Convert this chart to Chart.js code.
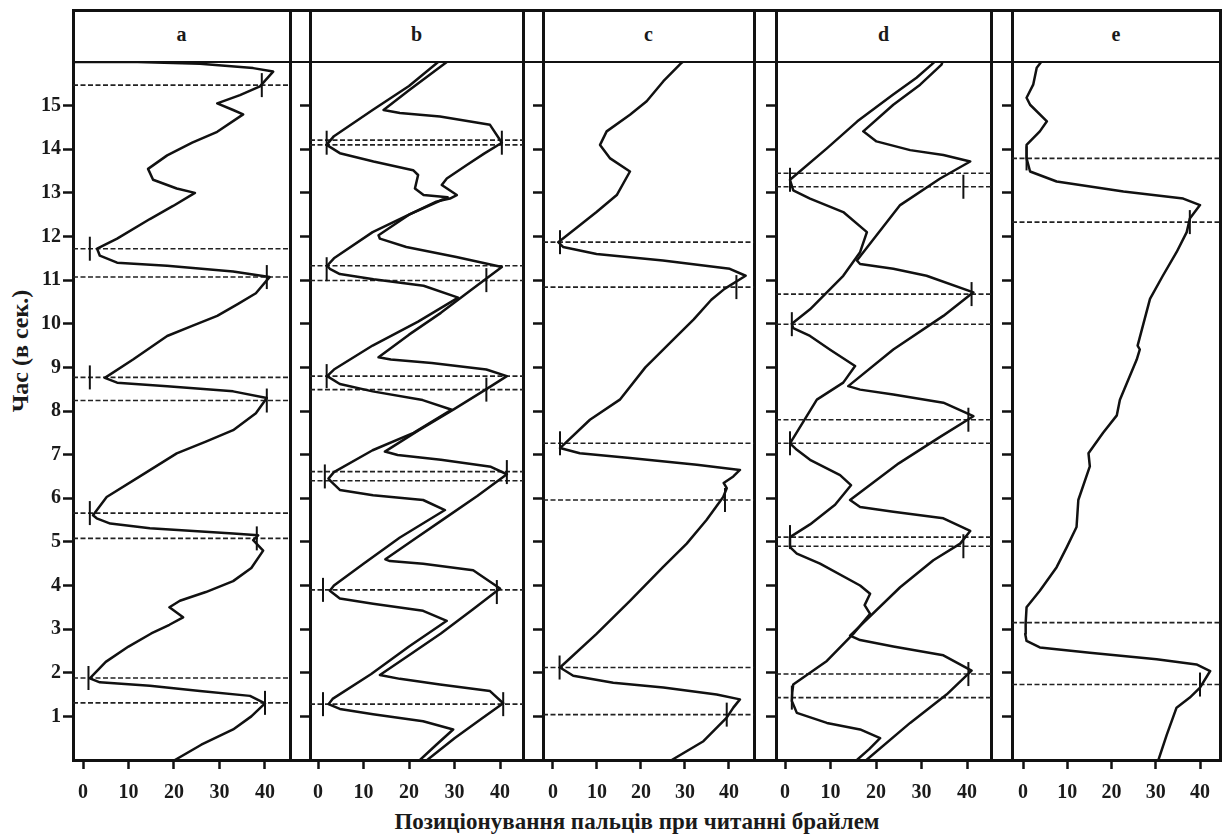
<!DOCTYPE html>
<html>
<head>
<meta charset="utf-8">
<script src="https://cdn.jsdelivr.net/npm/chart.js@4.4.1/dist/chart.umd.min.js"></script>
<style>
  body { margin: 0; background: #fff; width: 1224px; height: 836px; position: relative; overflow: hidden;
         font-family: "Liberation Serif", "DejaVu Serif", serif; font-weight: bold; color: #1a1a1a; }
  .hl { position: absolute; left: 72px; width: 1150px; background: #111; }
  .vl { position: absolute; top: 9px; height: 753px; width: 3px; background: #111; }
  .hd { position: absolute; top: 22px; font-size: 20px; text-align: center; line-height: 24px; }
  canvas { position: absolute; }
  #ytitle { position: absolute; left: 20px; top: 351px; transform: translate(-50%, -50%) rotate(-90deg);
            font-size: 24px; white-space: nowrap; }
  #xtitle { position: absolute; left: 637px; top: 822px; transform: translate(-50%, -50%);
            font-size: 23px; white-space: nowrap; }
</style>
</head>
<body>
<div id="ytitle">Час (в сек.)</div>
<div id="xtitle">Позиціонування пальців при читанні брайлем</div>
<script>
// panel letters
const letters = ['a', 'b', 'c', 'd', 'e'];
const xTicks = [0, 10, 20, 30, 40];
const yTicks = [1, 2, 3, 4, 5, 6, 7, 8, 9, 10, 11, 12, 13, 14, 15];

// traces: [position, time in sec]
const traceA = [[20.2,0],[26,0.35],[33,0.7],[37,1.0],[40,1.3],[36.7,1.47],[25.7,1.58],[14.7,1.7],[3.7,1.78],[1.5,1.87],
  [5,2.25],[10,2.6],[15,2.9],[19,3.1],[22,3.27],[19,3.5],[21.3,3.65],[27,3.85],[33,4.1],[37,4.4],[39.6,4.8],[37.4,5.04],[38.5,5.15],
  [33,5.19],[14.7,5.31],[6,5.42],[3,5.54],[2.2,5.61],[5.2,6.03],[12.5,6.5],[20.6,7.03],[27,7.3],[33,7.56],[38,7.95],[40.4,8.3],
  [33,8.45],[18.5,8.57],[7.5,8.65],[4.8,8.76],[11,9.18],[18.5,9.72],[24,9.95],[29.5,10.18],[34,10.45],[38,10.7],[41,11.07],
  [33,11.2],[18.5,11.33],[7.5,11.4],[3.7,11.56],[3.1,11.72],[7.5,11.95],[14.7,12.4],[19.8,12.7],[24.6,13.0],[20.6,13.1],[15.4,13.3],
  [14.3,13.55],[18.5,13.86],[24,14.15],[29.5,14.4],[35.2,14.8],[33,14.9],[29.5,15.05],[34.5,15.24],[38.9,15.44],[41.8,15.78],
  [37.4,15.86],[25.7,15.96],[12,16],[-2,16]];
const traceB1 = [[22.4,0],[26,0.35],[29.7,0.7],[23.1,0.89],[12.1,1.05],[4.8,1.17],[2.3,1.28],[3.2,1.4],[11.7,1.97],[20,2.6],[28.3,3.19],
  [23.1,3.42],[12.1,3.58],[4.8,3.7],[2.6,3.88],[3.5,4.0],[10,4.5],[18,5.1],[27.9,5.73],[23.1,5.96],[12.1,6.07],[4.8,6.19],[2.9,6.38],
  [2.3,6.45],[3.5,6.6],[12,7.1],[21,7.5],[29.4,8.03],[23,8.25],[12,8.45],[4.8,8.62],[2,8.8],[3.5,8.95],[12,9.5],[22,10.05],[30.8,10.6],
  [23.2,10.87],[12.2,11.02],[4.8,11.14],[2.6,11.26],[2,11.33],[3.5,11.5],[12,12.1],[20,12.5],[28.5,12.9],[23.2,12.95],[21.3,13.1],
  [22,13.41],[20.9,13.52],[12.2,13.72],[4.8,13.91],[1.9,14.1],[3.5,14.3],[12,14.9],[20,15.45],[26.4,16]];
const traceB2 = [[24,0],[30,0.5],[36,0.95],[40.7,1.3],[37.8,1.58],[26.8,1.73],[18,1.86],[13.6,1.95],[20,2.4],[27,2.9],[34,3.45],[40,3.93],
  [34.1,4.35],[23.1,4.5],[15.8,4.56],[14.8,4.6],[21,5.05],[28,5.55],[35,6.05],[41.5,6.55],[38,6.72],[27,6.88],[17.5,6.99],[14.7,7.07],
  [22,7.55],[30,8.05],[37,8.5],[41.5,8.8],[37,8.95],[25,9.1],[16,9.18],[13.3,9.23],[20,9.75],[27,10.25],[34,10.8],[40.4,11.3],
  [30.4,11.53],[19.4,11.76],[13.6,11.95],[13.3,12.03],[20,12.5],[26,12.8],[29,12.87],[30.5,12.95],[27.2,13.18],[28.3,13.33],
  [32.7,13.64],[36.5,13.9],[40.4,14.15],[37.8,14.56],[26.8,14.75],[18,14.83],[14.4,14.9],[20,15.35],[28.3,16]];
const traceC = [[27,0],[34.2,0.43],[39.5,0.97],[41,1.2],[42.5,1.39],[37.2,1.5],[25.1,1.66],[13.7,1.77],[4.6,1.93],[1.6,2.12],
  [9.9,2.89],[17.5,3.65],[25,4.42],[30.4,4.96],[34.9,5.5],[38.7,6.03],[39.5,6.23],[38.8,6.35],[41,6.5],[42.5,6.65],[32.7,6.77],
  [17.5,6.92],[6.1,7.03],[1.6,7.15],[8.4,7.8],[15.2,8.26],[21,9.0],[27,9.6],[32,10.1],[36,10.55],[39,10.8],[43.8,11.1],[40.2,11.26],
  [25,11.45],[9.9,11.6],[2.3,11.76],[1.2,11.87],[6.1,12.26],[9.9,12.56],[14.5,12.95],[17.5,13.49],[13,13.79],[10.7,14.1],[12.2,14.41],
  [17.5,14.79],[21.3,15.1],[25.1,15.56],[29.2,15.98],[29.5,16]];
const traceD1 = [[15.8,0],[18.5,0.25],[20.9,0.5],[16.5,0.7],[9.2,0.85],[2.6,1.08],[1.5,1.35],[1.6,1.55],[1.8,1.73],[5.5,2.0],[9.2,2.27],
  [15,2.89],[18.7,3.35],[17.5,3.55],[18.7,3.81],[16.5,4.0],[7.7,4.5],[2.6,4.73],[1.1,4.88],[1.1,5.11],[5.5,5.4],[11,5.85],[14.5,6.3],
  [12.1,6.53],[5.5,6.88],[2.6,7.11],[1.1,7.26],[4,7.75],[7,8.26],[12.8,8.65],[15.4,9.03],[10,9.4],[5.5,9.72],[1.8,9.9],[1.5,10.0],
  [5.5,10.33],[9.2,10.72],[12.8,11.1],[16.5,11.64],[18,12.1],[12.8,12.56],[5.5,12.87],[1.8,13.06],[1.1,13.3],[9.2,14.02],[15.9,14.64],
  [23.7,15.25],[28.9,15.64],[32.2,15.94],[32.8,16]];
const traceD2 = [[17.9,0],[27.5,0.85],[35.5,1.5],[41,2.05],[34.8,2.4],[23.8,2.6],[16.5,2.75],[14.3,2.85],[25.3,3.96],[32.6,4.58],
  [38.5,4.96],[40.7,5.25],[34.8,5.54],[23.8,5.69],[16.5,5.8],[14.3,5.96],[25,6.8],[34,7.4],[41.4,7.88],[34.8,8.19],[23.8,8.38],
  [16.5,8.49],[13.9,8.57],[23.8,9.41],[34.8,10.18],[41.4,10.72],[31.1,11.1],[23.8,11.26],[16.5,11.37],[15.8,11.45],[25.3,12.72],
  [34.1,13.33],[40.7,13.72],[34.8,13.87],[27.5,13.98],[20.1,14.18],[17.2,14.41],[23.8,15.02],[29.7,15.48],[34.4,15.94],[34.6,16]];
const traceE = [[30.6,0],[32.5,0.58],[34.7,1.2],[37.7,1.43],[40,1.66],[42.3,2.04],[39.2,2.19],[30.2,2.31],[15.1,2.46],[3.8,2.58],
  [0.8,2.73],[0.5,2.89],[0.6,3.14],[0.8,3.5],[3.8,3.88],[7.6,4.42],[9.9,4.88],[12.1,5.34],[12.5,5.96],[15.1,6.73],[14.8,7.03],
  [18.1,7.5],[21.2,7.9],[21.9,8.26],[25.7,9.18],[26.4,9.41],[25.9,9.5],[28.7,10.57],[31.6,11.1],[34.7,11.64],[37,12.1],[37.7,12.41],
  [40,12.72],[36.2,12.87],[22.7,13.03],[7.6,13.26],[1.6,13.49],[0.8,13.79],[0.8,14.1],[3.8,14.41],[5.4,14.64],[1.6,15.02],
  [0.8,15.18],[2.3,15.48],[3.1,15.87],[4.1,16]];

// dashed time levels
const dashA = [15.47, 11.72, 11.07, 8.77, 8.24, 5.66, 5.08, 1.88, 1.31];
const dashB = [14.21, 14.1, 11.33, 10.99, 8.8, 8.49, 6.61, 6.4, 3.9, 1.28];
const dashC = [11.87, 10.84, 7.26, 5.96, 2.12, 1.04];
const dashD = [13.45, 13.14, 10.68, 9.99, 7.8, 7.26, 5.11, 4.9, 1.97, 1.43];
const dashE = [13.79, 12.33, 3.15, 1.73];

// turning point markers [position, time]
const markA = [[39.3,15.47],[1.5,11.72],[40.4,11.07],[1.5,8.77],[40.4,8.24],[1.5,5.66],[38.2,5.08],[1.2,1.88],[40,1.31]];
const markB = [[1.9,14.15],[40.4,14.15],[1.9,11.25],[37,11.0],[1.9,8.8],[37,8.49],[1.5,6.5],[41.5,6.6],[1.1,3.9],[39.3,3.85],[1.1,1.28],[40.7,1.28]];
const markC = [[1.6,11.87],[41.7,10.84],[1.6,7.26],[39.1,5.96],[1.5,2.12],[39.5,1.04]];
const markD = [[1.1,13.3],[39.2,13.14],[41,10.68],[1.5,9.99],[40.3,7.8],[1.1,7.26],[1.1,5.11],[39.2,4.9],[40.3,1.97],[1.5,1.43]];
const markE = [[0.8,13.79],[37.7,12.33],[40,1.73]];

const panels = [
  { traces: [traceA], dash: dashA, marks: markA, left: 73, right: 290, xmin: -2.2, xmax: 45.5, labels: true },
  { traces: [traceB1, traceB2], dash: dashB, marks: markB, left: 310, right: 523, xmin: -1.76, xmax: 45.05 },
  { traces: [traceC], dash: dashC, marks: markC, left: 543, right: 754, xmin: -2.27, xmax: 45.7 },
  { traces: [traceD1, traceD2], dash: dashD, marks: markD, left: 776, right: 991, xmin: -1.98, xmax: 45.27 },
  { traces: [traceE], dash: dashE, marks: markE, left: 1012, right: 1220, xmin: -2.49, xmax: 44.52 }
];

const TOP = 62, BOTTOM = 760, PAD = 14, XH = 50;

Chart.defaults.font.family = '"Liberation Serif", "DejaVu Serif", serif';
Chart.defaults.font.weight = 'bold';
Chart.defaults.font.size = 20;
Chart.defaults.color = '#1a1a1a';

function addDiv(cls, css, text) {
  const d = document.createElement('div');
  d.className = cls;
  Object.assign(d.style, css);
  if (text) d.textContent = text;
  document.body.appendChild(d);
}

// frame lines
addDiv('hl', { top: '9px', height: '3px' });
addDiv('hl', { top: '61px', height: '2px' });
addDiv('hl', { top: '759px', height: '3px' });

panels.forEach((p, i) => {
  addDiv('vl', { left: (p.left - 1.5) + 'px' });
  addDiv('vl', { left: (p.right - 1.5) + 'px' });
  addDiv('hd', { left: p.left + 'px', width: (p.right - p.left) + 'px' }, letters[i]);

  const yw = p.labels ? p.left : PAD;
  const cv = document.createElement('canvas');
  cv.width = yw + (p.right - p.left) + PAD;
  cv.height = PAD + (BOTTOM - TOP) + XH;
  cv.style.left = (p.left - yw) + 'px';
  cv.style.top = (TOP - PAD) + 'px';
  document.body.appendChild(cv);

  const datasets = [];
  datasets.push({
    type: 'scatter',
    data: p.marks.map(([x, t]) => ({ x, y: t })),
    pointStyle: 'line', rotation: 90, pointRadius: 12, pointBorderWidth: 2,
    borderColor: '#111', backgroundColor: '#111', showLine: false
  });
  p.traces.forEach(tr => datasets.push({
    type: 'line',
    data: tr.map(([x, t]) => ({ x, y: t })),
    borderColor: '#111', borderWidth: 2.5, pointRadius: 0, tension: 0, fill: false,
    borderJoinStyle: 'round', borderCapStyle: 'round'
  }));
  p.dash.forEach(t => datasets.push({
    type: 'line',
    data: [{ x: p.xmin, y: t }, { x: p.xmax, y: t }],
    borderColor: '#222', borderWidth: 1.6, borderDash: [5, 2.5], pointRadius: 0, fill: false
  }));

  new Chart(cv, {
    type: 'line',
    data: { datasets },
    options: {
      responsive: false, animation: false, devicePixelRatio: 1,
      layout: { padding: { top: PAD, right: PAD, left: 0, bottom: 0 } },
      plugins: { legend: { display: false }, tooltip: { enabled: false } },
      scales: {
        x: {
          type: 'linear', min: p.xmin, max: p.xmax,
          afterBuildTicks: s => { s.ticks = xTicks.map(v => ({ value: v })); },
          afterFit: s => { s.height = XH; },
          grid: { drawOnChartArea: false, drawTicks: true, tickLength: 9, tickWidth: 2.5, color: '#111' },
          border: { display: false },
          ticks: { padding: 12, font: { size: 20 } }
        },
        y: {
          type: 'linear', min: 0, max: 16,
          afterBuildTicks: s => { s.ticks = yTicks.map(v => ({ value: v })); },
          afterFit: s => { s.width = yw; },
          grid: { drawOnChartArea: false, drawTicks: true, tickLength: 10, tickWidth: 2.5, color: '#111' },
          border: { display: false },
          ticks: { display: !!p.labels, padding: 2, font: { size: 20 } }
        }
      }
    }
  });
});
</script>
</body>
</html>
